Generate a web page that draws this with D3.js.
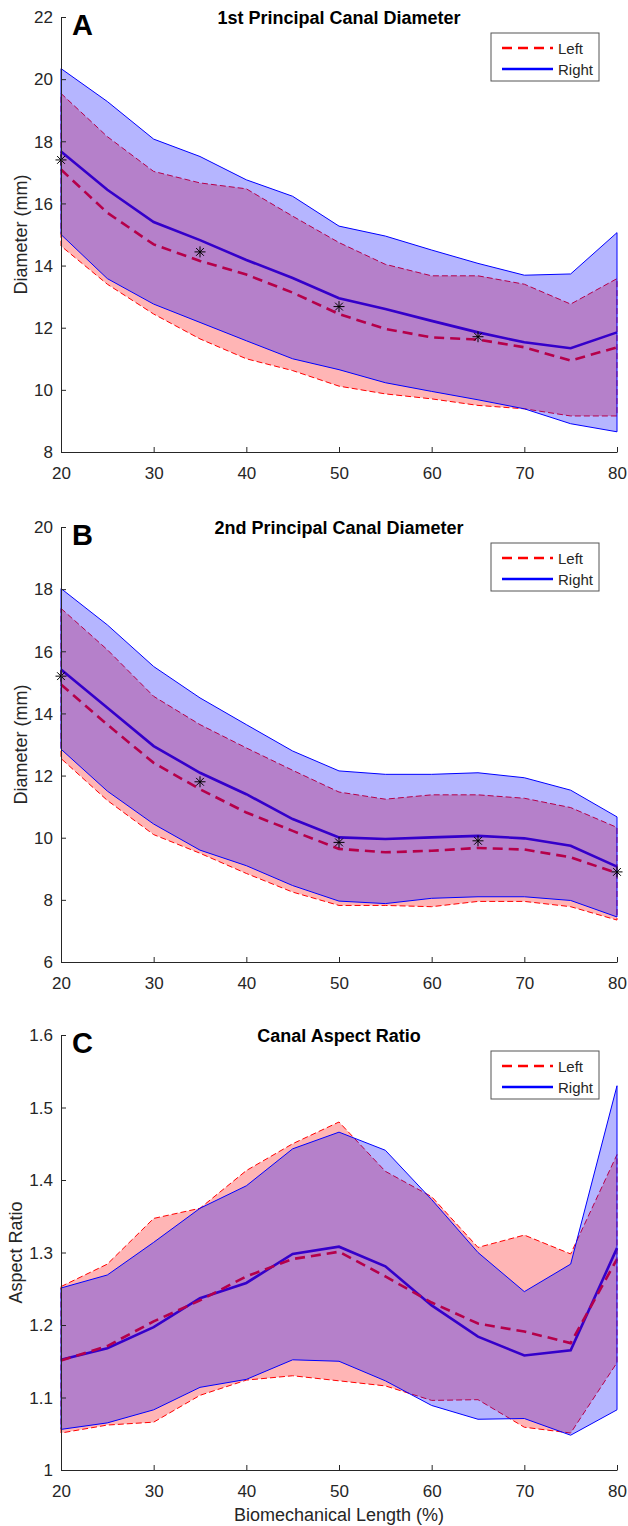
<!DOCTYPE html>
<html>
<head>
<meta charset="utf-8">
<script src="https://cdn.jsdelivr.net/npm/d3@7"></script>
<style>
  body { margin: 0; background: #fff; }
  svg { display: block; }
</style>
</head>
<body>
<svg id="chartArea" width="628" height="1526"></svg>
<script>
// biomechanical length (%)
const xPct = [20, 25, 30, 35, 40, 45, 50, 55, 60, 65, 70, 75, 80];
const xTicks = [20, 30, 40, 50, 60, 70, 80];

// A: 1st principal canal diameter (mm)
const aLeftMean   = [17.09, 15.70, 14.68, 14.15, 13.71, 13.13, 12.44, 11.96, 11.69, 11.62, 11.37, 10.94, 11.37];
const aLeftUpper  = [19.54, 18.15, 17.03, 16.66, 16.47, 15.59, 14.74, 14.04, 13.67, 13.67, 13.40, 12.76, 13.58];
const aLeftLower  = [14.63, 13.40, 12.44, 11.64, 11.00, 10.62, 10.12, 9.87, 9.71, 9.50, 9.39, 9.16, 9.16];
const aRightMean  = [17.67, 16.44, 15.40, 14.82, 14.18, 13.60, 12.95, 12.60, 12.22, 11.85, 11.53, 11.34, 11.85];
const aRightUpper = [20.34, 19.28, 18.07, 17.51, 16.76, 16.23, 15.27, 14.95, 14.50, 14.07, 13.69, 13.73, 15.06];
const aRightLower = [15.00, 13.58, 12.76, 12.17, 11.58, 11.00, 10.65, 10.23, 9.95, 9.68, 9.39, 8.91, 8.65];
const aStarX = [20, 35, 50, 65];
const aStarY = [17.40, 14.44, 12.68, 11.71];
const aYTicks = [8, 10, 12, 14, 16, 18, 20, 22];

// B: 2nd principal canal diameter (mm)
const bLeftMean   = [14.93, 13.64, 12.41, 11.56, 10.81, 10.22, 9.64, 9.53, 9.58, 9.67, 9.62, 9.37, 8.86];
const bLeftUpper  = [17.38, 16.05, 14.55, 13.64, 12.89, 12.17, 11.47, 11.24, 11.38, 11.38, 11.27, 10.97, 10.33];
const bLeftLower  = [12.55, 11.20, 10.10, 9.50, 8.85, 8.25, 7.82, 7.82, 7.78, 7.95, 7.95, 7.78, 7.35];
const bRightMean  = [15.41, 14.18, 12.95, 12.09, 11.40, 10.60, 10.01, 9.96, 10.01, 10.06, 9.98, 9.74, 9.07];
const bRightUpper = [18.02, 16.85, 15.51, 14.50, 13.64, 12.79, 12.15, 12.04, 12.04, 12.09, 11.93, 11.53, 10.67];
const bRightLower = [12.85, 11.50, 10.44, 9.60, 9.10, 8.46, 7.96, 7.88, 8.05, 8.10, 8.10, 7.98, 7.45];
const bStarX = [20, 35, 50, 65, 80];
const bStarY = [15.20, 11.80, 9.85, 9.90, 8.90];
const bYTicks = [6, 8, 10, 12, 14, 16, 18, 20];

// C: canal aspect ratio
const cLeftMean   = [1.151, 1.171, 1.205, 1.234, 1.267, 1.291, 1.301, 1.267, 1.231, 1.202, 1.191, 1.175, 1.291];
const cLeftUpper  = [1.253, 1.284, 1.347, 1.361, 1.413, 1.450, 1.480, 1.412, 1.377, 1.307, 1.324, 1.298, 1.435];
const cLeftLower  = [1.051, 1.062, 1.066, 1.103, 1.124, 1.130, 1.123, 1.116, 1.096, 1.097, 1.059, 1.051, 1.148];
const cRightMean  = [1.152, 1.168, 1.197, 1.237, 1.258, 1.298, 1.308, 1.281, 1.227, 1.184, 1.158, 1.165, 1.306];
const cRightUpper = [1.251, 1.269, 1.314, 1.361, 1.392, 1.443, 1.466, 1.441, 1.373, 1.300, 1.246, 1.284, 1.530];
const cRightLower = [1.056, 1.065, 1.083, 1.114, 1.125, 1.152, 1.150, 1.123, 1.089, 1.070, 1.071, 1.048, 1.083];
const cStarX = [];
const cStarY = [];
const cYTicks = [1, 1.1, 1.2, 1.3, 1.4, 1.5, 1.6];

const panels = [
    {letter: "A", title: "1st Principal Canal Diameter", ylabel: "Diameter (mm)", top: 17, ticks: aYTicks,
     lm: aLeftMean, lu: aLeftUpper, ll: aLeftLower, rm: aRightMean, ru: aRightUpper, rl: aRightLower,
     sx: aStarX, sy: aStarY, ylabX: 27},
    {letter: "B", title: "2nd Principal Canal Diameter", ylabel: "Diameter (mm)", top: 527, ticks: bYTicks,
     lm: bLeftMean, lu: bLeftUpper, ll: bLeftLower, rm: bRightMean, ru: bRightUpper, rl: bRightLower,
     sx: bStarX, sy: bStarY, ylabX: 27},
    {letter: "C", title: "Canal Aspect Ratio", ylabel: "Aspect Ratio", top: 1035, ticks: cYTicks,
     lm: cLeftMean, lu: cLeftUpper, ll: cLeftLower, rm: cRightMean, ru: cRightUpper, rl: cRightLower,
     sx: cStarX, sy: cStarY, ylabX: 22, xlabel: "Biomechanical Length (%)"}
];

const font = "'Liberation Sans', Arial, Helvetica, sans-serif";
const axisColor = "#262626";
const left = 61, right = 617, pHeight = 435;

// matlab style '*' marker
const asterisk = {
    draw(ctx, size) {
        const r = Math.sqrt(size) / 2;
        const d = r * Math.SQRT1_2;
        ctx.moveTo(-r, 0); ctx.lineTo(r, 0);
        ctx.moveTo(0, -r); ctx.lineTo(0, r);
        ctx.moveTo(-d, -d); ctx.lineTo(d, d);
        ctx.moveTo(-d, d); ctx.lineTo(d, -d);
    }
};

const svg = d3.select("#chartArea");

panels.forEach(p => {
    const g = svg.append("g");
    const scaleX = d3.scaleLinear().domain([20, 80]).range([left, right]);
    const scaleY = d3.scaleLinear()
        .domain([p.ticks[0], p.ticks[p.ticks.length - 1]])
        .range([p.top + pHeight, p.top]);

    const line = vals => d3.line()
        .x((d, i) => scaleX(xPct[i]))
        .y(d => scaleY(d))(vals);

    const band = (up, lo) => {
        const pts = xPct.map((x, i) => [scaleX(x), scaleY(up[i])])
            .concat(xPct.map((x, i) => [scaleX(x), scaleY(lo[i])]).reverse());
        return "M" + pts.join("L") + "Z";
    };

    // mean lines sit under the shaded bands
    g.append("path")
        .attr("d", line(p.rm))
        .attr("fill", "none")
        .attr("stroke", "#0000ff")
        .attr("stroke-width", 2.6);
    g.append("path")
        .attr("d", line(p.lm))
        .attr("fill", "none")
        .attr("stroke", "#ff0000")
        .attr("stroke-width", 2.6)
        .attr("stroke-dasharray", "10,6");

    g.append("path")
        .attr("d", band(p.lu, p.ll))
        .attr("fill", "#ff0000")
        .attr("fill-opacity", 0.29)
        .attr("stroke", "#ff0000")
        .attr("stroke-width", 1)
        .attr("stroke-dasharray", "6,3");
    g.append("path")
        .attr("d", band(p.ru, p.rl))
        .attr("fill", "#0000ff")
        .attr("fill-opacity", 0.29)
        .attr("stroke", "#0000ff")
        .attr("stroke-width", 1);

    g.selectAll(".star")
        .data(p.sx.map((x, i) => [x, p.sy[i]]))
        .enter().append("path")
        .attr("transform", d => `translate(${scaleX(d[0])},${scaleY(d[1])})`)
        .attr("d", d3.symbol().type(asterisk).size(121)())
        .attr("stroke", "#000")
        .attr("stroke-width", 1)
        .attr("fill", "none");

    // axes
    const xAxis = g.append("g")
        .attr("transform", `translate(0,${p.top + pHeight})`)
        .call(d3.axisBottom(scaleX).tickValues(xTicks).tickSizeInner(-5).tickSizeOuter(0).tickPadding(15));
    const yAxis = g.append("g")
        .attr("transform", `translate(${left},0)`)
        .call(d3.axisLeft(scaleY).tickValues(p.ticks).tickFormat(d => String(d))
            .tickSizeInner(-5).tickSizeOuter(0).tickPadding(8));
    [xAxis, yAxis].forEach(a => {
        a.attr("color", axisColor)
            .attr("font-family", font)
            .attr("font-size", 17);
        a.selectAll("text").attr("fill", axisColor);
    });
    yAxis.selectAll("text").attr("dy", "0.34em");

    g.append("text")
        .attr("x", (left + right) / 2)
        .attr("y", p.top + 7)
        .attr("text-anchor", "middle")
        .attr("font-family", font)
        .attr("font-weight", "bold")
        .attr("font-size", 18)
        .attr("fill", "#000")
        .text(p.title);

    g.append("text")
        .attr("x", 72)
        .attr("y", p.top + 18)
        .attr("font-family", font)
        .attr("font-weight", "bold")
        .attr("font-size", 29)
        .attr("fill", "#000")
        .text(p.letter);

    g.append("text")
        .attr("transform", `translate(${p.ylabX},${p.top + pHeight / 2}) rotate(-90)`)
        .attr("text-anchor", "middle")
        .attr("font-family", font)
        .attr("font-size", 18)
        .attr("fill", axisColor)
        .text(p.ylabel);

    if (p.xlabel) {
        g.append("text")
            .attr("x", (left + right) / 2)
            .attr("y", p.top + pHeight + 51)
            .attr("text-anchor", "middle")
            .attr("font-family", font)
            .attr("font-size", 18)
            .attr("fill", axisColor)
            .text(p.xlabel);
    }

    // legend
    const lg = g.append("g").attr("transform", `translate(${right - 126},${p.top + 16})`);
    lg.append("rect")
        .attr("width", 108)
        .attr("height", 48)
        .attr("fill", "#fff")
        .attr("stroke", "#555")
        .attr("stroke-width", 1);
    const items = [
        {name: "Left", color: "#ff0000", dash: "10,6"},
        {name: "Right", color: "#0000ff", dash: null}
    ];
    items.forEach((it, i) => {
        const yy = 15 + i * 21;
        lg.append("line")
            .attr("x1", 11).attr("x2", 62)
            .attr("y1", yy).attr("y2", yy)
            .attr("stroke", it.color)
            .attr("stroke-width", 2.6)
            .attr("stroke-dasharray", it.dash);
        lg.append("text")
            .attr("x", 67)
            .attr("y", yy + 5.5)
            .attr("font-family", font)
            .attr("font-size", 15)
            .attr("fill", axisColor)
            .text(it.name);
    });
});
</script>
</body>
</html>
